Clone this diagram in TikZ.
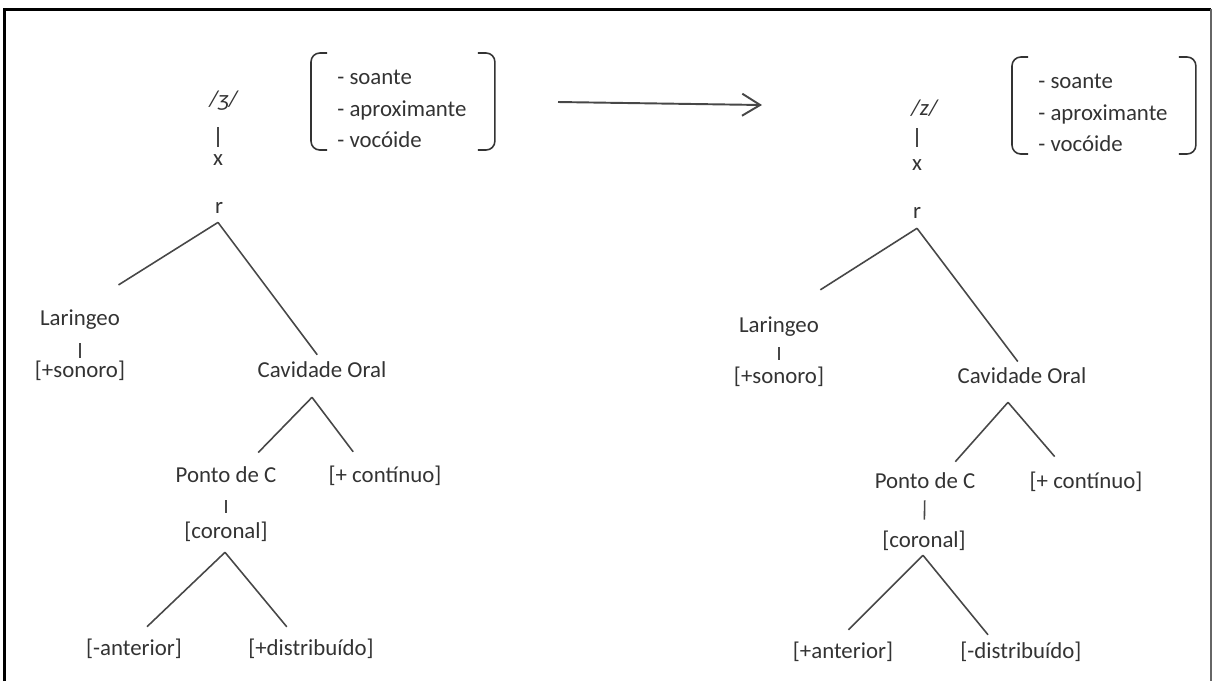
\documentclass[tikz,border=0pt]{standalone}
\usepackage{fontspec}
\setmainfont{Carlito}
\usetikzlibrary{calc,arrows.meta}
\definecolor{ink}{HTML}{333333}

\tikzset{
  lbl/.style={inner sep=0pt,text height=9pt,text depth=3pt,text=ink},
  branch/.style={draw=ink!90,line width=0.9pt},
  brak/.style={draw=ink,line width=0.9pt,rounded corners=5pt},
}
% brackets round a feature list
\newcommand{\featbrack}[1]{%
  \draw[brak] ($(#1.west)+(-10,-56)$) -- ++(-16,0) -- ++(0,97) -- ++(16,0);
  \draw[brak] ($(#1.east)+(11,-56)$) -- ++(17,0) -- ++(0,97) -- ++(-17,0);
}

\begin{document}
\begin{tikzpicture}[x=0.02cm,y=-0.02cm,font=\fontsize{13}{18}\selectfont]
  \useasboundingbox (0,0) rectangle (1212,681);
  \draw[line width=1.7pt] (4.5,681) -- (4.5,9) -- (1211,9);
  \draw[black!60,line width=1.1pt] (1211,9) -- (1211,681);

  % left tree
  \node[lbl] (ysl) at (224,101) {\textit{/ʒ/}};
  \node[lbl] (xx) at (218,160) {x};
  \node[lbl] (r) at (219,208) {r};
  \node[lbl] (lar) at (80,320) {Laringeo};
  \node[lbl] (son) at (80,372) {[+sonoro]};
  \node[lbl] (cav) at (322,372) {Cavidade Oral};
  \node[lbl] (ponto) at (226,477) {Ponto de C};
  \node[lbl] (cont) at (385,477) {[+ contínuo]};
  \node[lbl] (cor) at (226,533) {[coronal]};
  \node[lbl] (ant) at (134,650) {[-anterior]};
  \node[lbl] (dist) at (311,650) {[+distribuído]};
  \node[lbl,text height=,text depth=,align=left,anchor=west] (featL) at (337,109)
    {- soante\\- aproximante\\- vocóide};
  \featbrack{featL}

  \coordinate (rA) at ($(r.south)+(-1,3.5)$);
  \coordinate (cavA) at ($(cav.south)+(-10,14.4)$);
  \coordinate (corA) at ($(cor.south)+(-1,8.4)$);

  \draw[branch,shorten <=0.31cm,shorten >=0.05cm] (xx.north |- ysl.south) -- (xx.north);
  \draw[branch,shorten >=0.91cm] (rA) -- (lar.north);
  \draw[branch,shorten >=0.16cm] (rA) -- (cav.north);
  \draw[branch,shorten <=0.25cm,shorten >=0.07cm] (lar) -- (son);
  \draw[branch,shorten >=0.38cm] (cavA) -- ($(ponto.north)+(19,0)$);
  \draw[branch,shorten >=0.36cm] (cavA) -- ($(cont.north)+(-21,0)$);
  \draw[branch,shorten <=0.25cm,shorten >=0.19cm] (ponto) -- (cor);
  \draw[branch,shorten >=0.36cm] (corA) -- (ant.north);
  \draw[branch,shorten >=0.32cm] (corA) -- ($(dist.north)+(-14,0)$);

  % arrow
  \coordinate (arrS) at (558,102);
  \coordinate (arrE) at (762,105);
  \draw[branch,line width=1.1pt,-{Straight Barb[length=0.36cm,width=0.44cm]}] (arrS) -- (arrE);

  % right tree
  \node[lbl] (zsl) at (925,110) {\textit{/z/}};
  \node[lbl] (xx2) at (917,165) {x};
  \node[lbl] (r2) at (917,213) {r};
  \node[lbl] (lar2) at (779,327) {Laringeo};
  \node[lbl] (son2) at (779,378) {[+sonoro]};
  \node[lbl] (cav2) at (1022,378) {Cavidade Oral};
  \node[lbl] (ponto2) at (925,483) {Ponto de C};
  \node[lbl] (cont2) at (1086,483) {[+ contínuo]};
  \node[lbl] (cor2) at (924,542) {[coronal]};
  \node[lbl] (ant2) at (843,653) {[+anterior]};
  \node[lbl] (dist2) at (1021,653) {[-distribuído]};
  \node[lbl,text height=,text depth=,align=left,anchor=west] (featR) at (1038,113)
    {- soante\\- aproximante\\- vocóide};
  \featbrack{featR}

  \coordinate (rA2) at ($(r2.south)+(0,4.4)$);
  \coordinate (cavA2) at ($(cav2.south)+(-14,13.4)$);
  \coordinate (corA2) at ($(cor2.south)+(-1,2.4)$);

  \draw[branch,shorten <=0.15cm,shorten >=0.15cm] (xx2.north |- zsl.south) -- (xx2.north);
  \draw[branch,shorten >=0.98cm] (rA2) -- (lar2.north);
  \draw[branch,shorten >=0.14cm] (rA2) -- (cav2.north);
  \draw[branch,shorten <=0.19cm,shorten >=0.15cm] (lar2) -- (son2);
  \draw[branch,shorten >=0.28cm] (cavA2) -- ($(ponto2.north)+(21,0)$);
  \draw[branch,shorten >=0.41cm] (cavA2) -- ($(cont2.north)+(-18,0)$);
  \draw[branch,shorten <=0.13cm,shorten >=0.23cm] (ponto2) -- (cor2);
  \draw[branch,shorten >=0.35cm] (corA2) -- ($(ant2.north)+(-7,0)$);
  \draw[branch,shorten >=0.19cm] (corA2) -- ($(dist2.north)+(-27,0)$);
\end{tikzpicture}
\end{document}
